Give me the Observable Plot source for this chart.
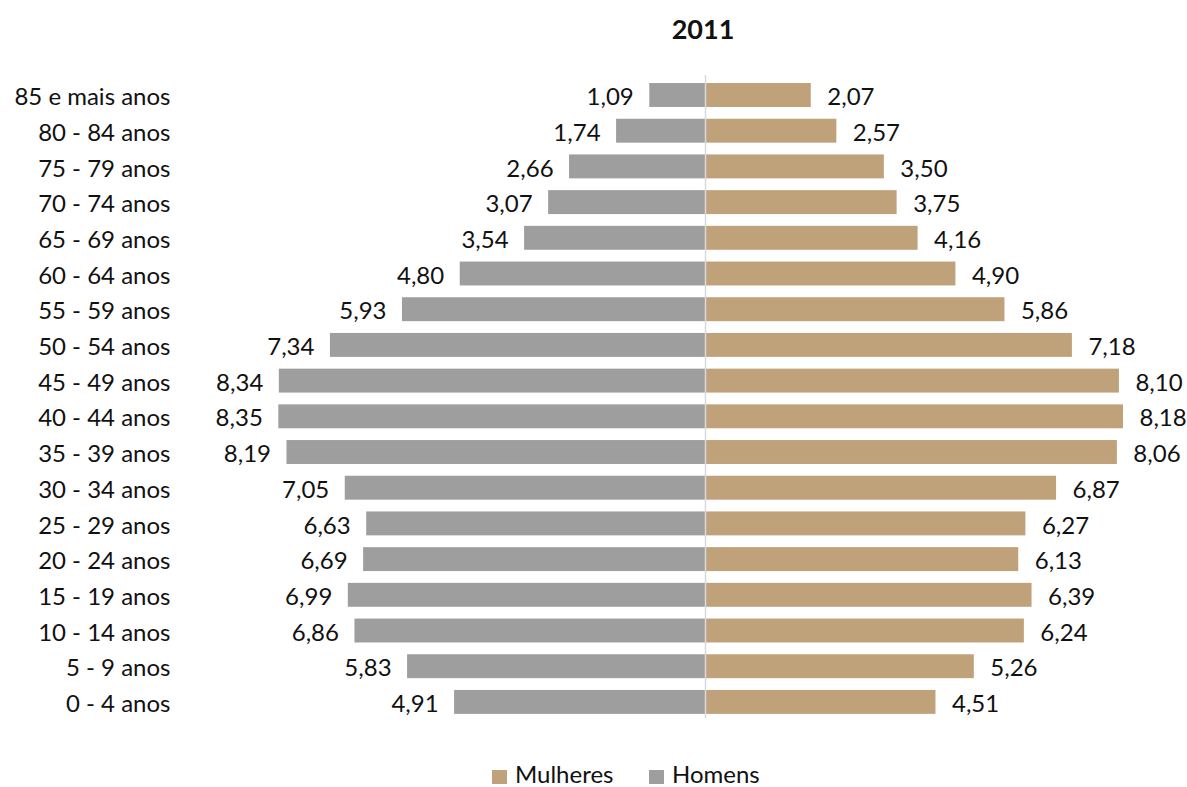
<!DOCTYPE html>
<html>
<head>
<meta charset="utf-8">
<script src="https://cdn.jsdelivr.net/npm/d3@7"></script>
<script src="https://cdn.jsdelivr.net/npm/@observablehq/plot@0.6"></script>
<style>
  body { margin: 0; background: #fff; font-family: Lato, "Open Sans", sans-serif; }
  #wrap { position: relative; width: 1187px; }
  #title { height: 50px; position: relative; }
  #title span { position: absolute; left: 703px; top: 12px; transform: translateX(-50%); font-weight: bold; font-size: 27px; color: #111; }
  #chart svg { display: block; }
  #legend { position: relative; height: 69px; font-size: 24px; color: #111; }
  .sw { position: absolute; width: 15px; height: 14px; top: 52px; }
  .lt { position: absolute; top: 46px; line-height: 20px; }
</style>
</head>
<body>
<div id="wrap">
  <div id="title"><span>2011</span></div>
  <div id="chart"></div>
  <div id="legend"></div>
</div>
<script>
const categories = ["85 e mais anos","80 - 84 anos","75 - 79 anos","70 - 74 anos","65 - 69 anos","60 - 64 anos","55 - 59 anos","50 - 54 anos","45 - 49 anos","40 - 44 anos","35 - 39 anos","30 - 34 anos","25 - 29 anos","20 - 24 anos","15 - 19 anos","10 - 14 anos","5 - 9 anos","0 - 4 anos"];
const homens = [1.09,1.74,2.66,3.07,3.54,4.80,5.93,7.34,8.34,8.35,8.19,7.05,6.63,6.69,6.99,6.86,5.83,4.91];
const mulheres = [2.07,2.57,3.50,3.75,4.16,4.90,5.86,7.18,8.10,8.18,8.06,6.87,6.27,6.13,6.39,6.24,5.26,4.51];
const seriesNames = ["Mulheres","Homens"];
const seriesColors = ["#bfa17a","#9e9e9e"];

const rows = [];
categories.forEach((c, i) => {
  rows.push({age: c, sex: "Homens", value: homens[i], signed: -homens[i]});
  rows.push({age: c, sex: "Mulheres", value: mulheres[i], signed: mulheres[i]});
});
const fmt = v => d3.format(".2f")(v).replace(".", ",");
const men = rows.filter(d => d.sex === "Homens");
const women = rows.filter(d => d.sex === "Mulheres");

const chart = Plot.plot({
  width: 1187,
  height: 668,
  marginTop: 25,
  marginBottom: 0,
  marginLeft: 180,
  marginRight: 0,
  style: {fontFamily: "Lato, 'Open Sans', sans-serif", fontSize: "24px", color: "#111", background: "#fff"},
  x: {domain: [-9, 9], range: [245.1, 1164.9], axis: null},
  y: {domain: categories, range: [21.26, 675.66], padding: 0.33, round: false, label: null},
  color: {domain: seriesNames, range: seriesColors},
  marks: [
    Plot.barX(rows, {x: "signed", y: "age", fill: "sex"}),
    Plot.ruleX([0], {stroke: "#d9d9d9", strokeWidth: 1.5}),
    Plot.text(men, {x: "signed", y: "age", text: d => fmt(d.value), textAnchor: "end", dx: -16, dy: 2, fill: "#111"}),
    Plot.text(women, {x: "signed", y: "age", text: d => fmt(d.value), textAnchor: "start", dx: 16, dy: 2, fill: "#111"}),
    Plot.axisY({tickSize: 0, tickPadding: 10, fontSize: 24, dy: 2})
  ]
});
document.getElementById("chart").appendChild(chart);

const legend = document.getElementById("legend");
const pos = [[492, 515], [649, 672]];
seriesNames.forEach((n, i) => {
  const sw = document.createElement("div");
  sw.className = "sw"; sw.style.left = pos[i][0] + "px"; sw.style.background = seriesColors[i];
  const t = document.createElement("div");
  t.className = "lt"; t.style.left = pos[i][1] + "px"; t.textContent = n;
  legend.appendChild(sw); legend.appendChild(t);
});
</script>
</body>
</html>
